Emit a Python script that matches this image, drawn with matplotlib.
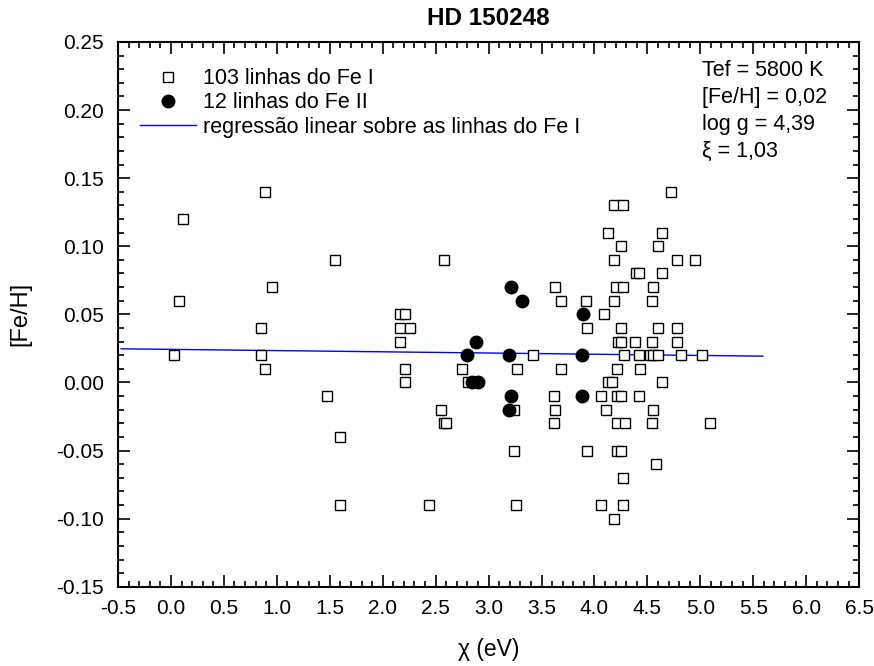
import numpy as np
import matplotlib
matplotlib.use('Agg')
import matplotlib.pyplot as plt
from matplotlib.ticker import MultipleLocator, FormatStrFormatter

plt.rcParams['font.family'] = ['Liberation Sans', 'DejaVu Sans']

# Fe I lines: excitation potential (eV) and [Fe/H]
chi_fe1 = [0.89, 0.11, 1.55, 0.95, 0.08, 0.85, 0.03, 0.85, 0.89, 1.47, 1.60, 1.60,
           2.58, 2.16, 2.21, 2.16, 2.26, 2.16, 3.42, 2.21, 2.75, 3.27, 3.68, 2.21,
           2.81, 3.62, 4.06, 2.55, 3.24, 3.63, 4.11, 2.58, 2.60, 3.62, 3.24, 3.93,
           2.44, 3.26, 4.06, 4.18, 3.63, 3.68, 3.92, 4.09, 3.93,
           4.72, 4.18, 4.27, 4.13, 4.64, 4.25, 4.60, 4.18, 4.78, 4.95, 4.39, 4.42,
           4.64, 4.20, 4.27, 4.55, 4.18, 4.54, 4.25, 4.60, 4.78, 4.22, 4.25, 4.38,
           4.54, 4.78, 4.28, 4.42, 4.52, 4.55, 4.60, 4.82, 5.02, 4.21, 4.43, 4.13,
           4.17, 4.64, 4.21, 4.25, 4.42, 4.55, 4.21, 4.29, 4.54, 5.09, 4.21, 4.25,
           4.58, 4.27, 4.27]
feh_fe1 = [0.14, 0.12, 0.09, 0.07, 0.06, 0.04, 0.02, 0.02, 0.01, -0.01, -0.04, -0.09,
           0.09, 0.05, 0.05, 0.04, 0.04, 0.03, 0.02, 0.01, 0.01, 0.01, 0.01, 0.00,
           0.00, -0.01, -0.01, -0.02, -0.02, -0.02, -0.02, -0.03, -0.03, -0.03, -0.05, -0.05,
           -0.09, -0.09, -0.09, -0.10, 0.07, 0.06, 0.06, 0.05, 0.04,
           0.14, 0.13, 0.13, 0.11, 0.11, 0.10, 0.10, 0.09, 0.09, 0.09, 0.08, 0.08,
           0.08, 0.07, 0.07, 0.07, 0.06, 0.06, 0.04, 0.04, 0.04, 0.03, 0.03, 0.03,
           0.03, 0.03, 0.02, 0.02, 0.02, 0.02, 0.02, 0.02, 0.02, 0.01, 0.01, 0.00,
           0.00, 0.00, -0.01, -0.01, -0.01, -0.02, -0.03, -0.03, -0.03, -0.03, -0.05, -0.05,
           -0.06, -0.07, -0.09]

# Fe II lines
chi_fe2 = [3.21, 3.32, 3.89, 2.88, 2.80, 3.19, 3.88, 2.84, 2.90, 3.21, 3.88, 3.19]
feh_fe2 = [0.07, 0.06, 0.05, 0.03, 0.02, 0.02, 0.02, 0.00, 0.00, -0.01, -0.01, -0.02]

# linear regression over Fe I lines (end points)
fit_x = [-0.47, 5.59]
fit_y = [0.0247, 0.0193]

params = ['Tef = 5800 K', '[Fe/H] = 0,02', 'log g = 4,39', '\u03be = 1,03']

fig = plt.figure(figsize=(8.74, 6.66), dpi=100)
ax = fig.add_axes([0.135, 0.119, 0.848, 0.818])

ax.plot(chi_fe1, feh_fe1, 's', ms=7.5, mfc='white', mec='black', mew=1.0,
        ls='none', label='103 linhas do Fe I', zorder=3)
ax.plot(chi_fe2, feh_fe2, 'o', ms=9, mfc='black', mec='black',
        ls='none', label='12 linhas do Fe II', zorder=4)
ax.plot(fit_x, fit_y, color='blue', lw=1.0,
        label='regress\u00e3o linear sobre as linhas do Fe I', zorder=2)

ax.set_xlim(-0.5, 6.5)
ax.set_ylim(-0.15, 0.25)
ax.xaxis.set_major_locator(MultipleLocator(0.5))
ax.xaxis.set_minor_locator(MultipleLocator(0.1))
ax.yaxis.set_major_locator(MultipleLocator(0.05))
ax.yaxis.set_minor_locator(MultipleLocator(0.01))
ax.xaxis.set_major_formatter(FormatStrFormatter('%.1f'))
ax.yaxis.set_major_formatter(FormatStrFormatter('%.2f'))
ax.tick_params(which='both', direction='in', top=True, right=True,
               labelsize=15, width=1.2)
ax.tick_params(axis='x', pad=9)
ax.tick_params(axis='y', pad=10)
ax.tick_params(which='major', length=8.5)
ax.tick_params(which='minor', length=4.5)
for s in ax.spines.values():
    s.set_linewidth(1.5)

ax.set_xlabel('\u03c7 (eV)', fontsize=16.5, labelpad=14)
ax.set_ylabel('[Fe/H]', fontsize=17, labelpad=18)
ax.set_title('HD 150248', fontsize=17.5, fontweight='bold', pad=12)

ax.legend(loc='upper left', bbox_to_anchor=(0.03, 0.952), frameon=False,
          fontsize=15.5, handlelength=2.6, labelspacing=0.15, handletextpad=0.3,
          borderaxespad=0, borderpad=0)

for i, t in enumerate(params):
    ax.text(0.788, 0.947 - i * 0.0495, t, transform=ax.transAxes,
            fontsize=15.5, va='center', ha='left')

fig.savefig('out.png', dpi=100)
